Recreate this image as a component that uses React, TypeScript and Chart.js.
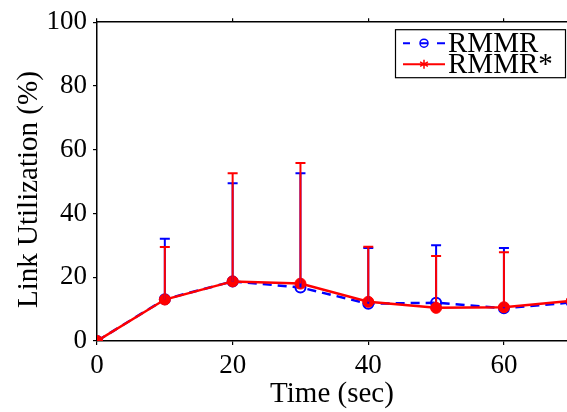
import React, { useEffect, useRef } from "react";
import { Chart, registerables } from "chart.js";

Chart.register(...registerables);

const times = [0, 10, 20, 30, 40, 50, 60, 70];
const rmmr = [0, 13.1, 18.7, 16.8, 11.7, 12.0, 10.3, 12.1];
const rmmrUpper = [null, 32.1, 49.5, 52.6, 29.2, 30.0, 29.2, null];
const rmmrStar = [0, 13.0, 18.7, 18.0, 12.3, 10.4, 10.6, 12.6];
const rmmrStarUpper = [null, 29.5, 52.6, 55.8, 29.6, 26.7, 27.8, null];
const xTicks = [0, 20, 40, 60];
const yTicks = [0, 20, 40, 60, 80, 100];
const seriesNames = ["RMMR", "RMMR*"];
const xTitle = "Time (sec)";
const yTitle = "Link Utilization (%)";
const X_MAX = 69.3;

const FONT = "'Liberation Serif', 'Times New Roman', serif";
const BLUE = "#0000ff";
const RED = "#ff0000";

const errorBarPlugin = {
  id: "errorBars",
  afterDatasetsDraw(chart: any) {
    const { ctx, chartArea, scales } = chart;
    const xs = scales.x;
    const ys = scales.y;
    const sets = [
      { vals: rmmr, ups: rmmrUpper, color: BLUE },
      { vals: rmmrStar, ups: rmmrStarUpper, color: RED },
    ];
    ctx.save();
    ctx.beginPath();
    ctx.rect(chartArea.left, chartArea.top - 10, chartArea.right - chartArea.left, chartArea.bottom - chartArea.top + 10);
    ctx.clip();
    sets.forEach((s) => {
      ctx.strokeStyle = s.color;
      ctx.lineWidth = 2;
      ctx.setLineDash([]);
      times.forEach((t, i) => {
        const u = s.ups[i];
        if (u == null) return;
        const px = xs.getPixelForValue(t);
        const py0 = ys.getPixelForValue(s.vals[i]);
        const py1 = ys.getPixelForValue(u);
        ctx.beginPath();
        ctx.moveTo(px, py0);
        ctx.lineTo(px, py1);
        ctx.moveTo(px - 5, py1);
        ctx.lineTo(px + 5, py1);
        ctx.stroke();
      });
    });
    ctx.restore();
  },
};

const yTitlePlugin = {
  id: "yTitle",
  afterDraw(chart: any) {
    const { ctx, chartArea } = chart;
    ctx.save();
    ctx.translate(29, (chartArea.top + chartArea.bottom) / 2 + 8);
    ctx.rotate(-Math.PI / 2);
    ctx.fillStyle = "#000000";
    ctx.font = `29px ${FONT}`;
    ctx.textAlign = "center";
    ctx.textBaseline = "middle";
    ctx.fillText(yTitle, 0, 0);
    ctx.restore();
  },
};

const legendPlugin = {
  id: "customLegend",
  afterDraw(chart: any) {
    const { ctx, chartArea } = chart;
    const w = 170;
    const h = 48;
    const x0 = chartArea.right - w - 2;
    const y0 = chartArea.top + 7;
    ctx.save();
    ctx.fillStyle = "#ffffff";
    ctx.fillRect(x0, y0, w, h);
    ctx.strokeStyle = "#000000";
    ctx.lineWidth = 1.2;
    ctx.strokeRect(x0 + 0.5, y0 + 0.5, w, h);

    const lx0 = x0 + 8;
    const lx1 = x0 + 50;
    const cx = (lx0 + lx1) / 2;
    const r1 = y0 + 14;
    const r2 = y0 + 35;

    // RMMR: dashed blue with open circle
    ctx.strokeStyle = BLUE;
    ctx.lineWidth = 2;
    ctx.beginPath();
    ctx.moveTo(lx0, r1);
    ctx.lineTo(lx0 + 7, r1);
    ctx.moveTo(lx1 - 8, r1);
    ctx.lineTo(lx1, r1);
    ctx.moveTo(cx - 4, r1);
    ctx.lineTo(cx + 4, r1);
    ctx.stroke();
    ctx.lineWidth = 1.5;
    ctx.beginPath();
    ctx.arc(cx, r1, 4, 0, Math.PI * 2);
    ctx.stroke();

    // RMMR*: solid red with asterisk
    ctx.strokeStyle = RED;
    ctx.lineWidth = 2;
    ctx.beginPath();
    ctx.moveTo(lx0, r2);
    ctx.lineTo(lx1, r2);
    ctx.stroke();
    ctx.lineWidth = 1.5;
    ctx.beginPath();
    for (let k = 0; k < 3; k++) {
      const a = (Math.PI / 3) * k + Math.PI / 2;
      ctx.moveTo(cx - 4.5 * Math.cos(a), r2 - 4.5 * Math.sin(a));
      ctx.lineTo(cx + 4.5 * Math.cos(a), r2 + 4.5 * Math.sin(a));
    }
    ctx.stroke();

    ctx.fillStyle = "#000000";
    ctx.font = `29px ${FONT}`;
    ctx.textBaseline = "middle";
    ctx.textAlign = "left";
    ctx.fillText(seriesNames[0], lx1 + 3, r1 + 1);
    ctx.fillText(seriesNames[1], lx1 + 3, r2 + 1);
    ctx.restore();
  },
};

export default function App() {
  const ref = useRef<HTMLCanvasElement | null>(null);
  useEffect(() => {
    if (!ref.current) return;
    const gridOpts = {
      drawOnChartArea: false,
      drawTicks: true,
      tickLength: 4,
      color: "#000000",
      lineWidth: 1.2,
    };
    const noPad = (s: any) => {
      s.paddingLeft = 0;
      s.paddingRight = 0;
    };
    const chart = new Chart(ref.current, {
      type: "line",
      data: {
        datasets: [
          {
            label: seriesNames[0],
            data: times.map((t, i) => ({ x: t, y: rmmr[i] })),
            borderColor: BLUE,
            borderWidth: 2.5,
            borderDash: [9, 6],
            pointRadius: 5,
            pointBorderWidth: 2,
            pointBorderColor: BLUE,
            pointBackgroundColor: "rgba(0,0,0,0)",
            order: 1,
          },
          {
            label: seriesNames[1],
            data: times.map((t, i) => ({ x: t, y: rmmrStar[i] })),
            borderColor: RED,
            borderWidth: 2.5,
            pointRadius: 5.5,
            pointBorderWidth: 1,
            pointBorderColor: RED,
            pointBackgroundColor: RED,
            order: 0,
          },
        ],
      },
      options: {
        responsive: false,
        animation: false,
        layout: { padding: 0, autoPadding: false },
        plugins: {
          legend: { display: false },
          tooltip: { enabled: false },
        },
        scales: {
          x: {
            type: "linear",
            position: "bottom",
            min: 0,
            max: X_MAX,
            afterBuildTicks: (s: any) => {
              s.ticks = xTicks.map((v) => ({ value: v }));
            },
            afterCalculateLabelRotation: noPad,
            afterFit: (s: any) => {
              s.height = 71;
              noPad(s);
            },
            grid: gridOpts,
            border: { display: true, color: "#000000", width: 1.5 },
            ticks: {
              color: "#000000",
              font: { family: FONT, size: 27 },
              padding: 5,
              maxRotation: 0,
            },
            title: {
              display: true,
              text: xTitle,
              color: "#000000",
              font: { family: FONT, size: 29 },
              padding: { top: 0, bottom: 0 },
            },
          },
          xTop: {
            type: "linear",
            position: "top",
            min: 0,
            max: X_MAX,
            afterBuildTicks: (s: any) => {
              s.ticks = xTicks.map((v) => ({ value: v }));
            },
            afterCalculateLabelRotation: noPad,
            afterFit: (s: any) => {
              s.height = 18;
              noPad(s);
            },
            grid: gridOpts,
            border: { display: true, color: "#000000", width: 1.5 },
            ticks: { display: false },
          },
          y: {
            type: "linear",
            position: "left",
            min: 0,
            max: 100,
            afterBuildTicks: (s: any) => {
              s.ticks = yTicks.map((v) => ({ value: v }));
            },
            afterFit: (s: any) => {
              s.width = 97;
            },
            grid: gridOpts,
            border: { display: true, color: "#000000", width: 1.5 },
            ticks: {
              color: "#000000",
              font: { family: FONT, size: 27 },
              padding: 6,
            },
          },
        },
      } as any,
      plugins: [errorBarPlugin, legendPlugin, yTitlePlugin],
    });
    return () => chart.destroy();
  }, []);
  return (
    <div style={{ position: "absolute", left: 0, top: 0, width: 567, height: 412, background: "#ffffff" }}>
      <canvas ref={ref} width={567} height={412} />
    </div>
  );
}
